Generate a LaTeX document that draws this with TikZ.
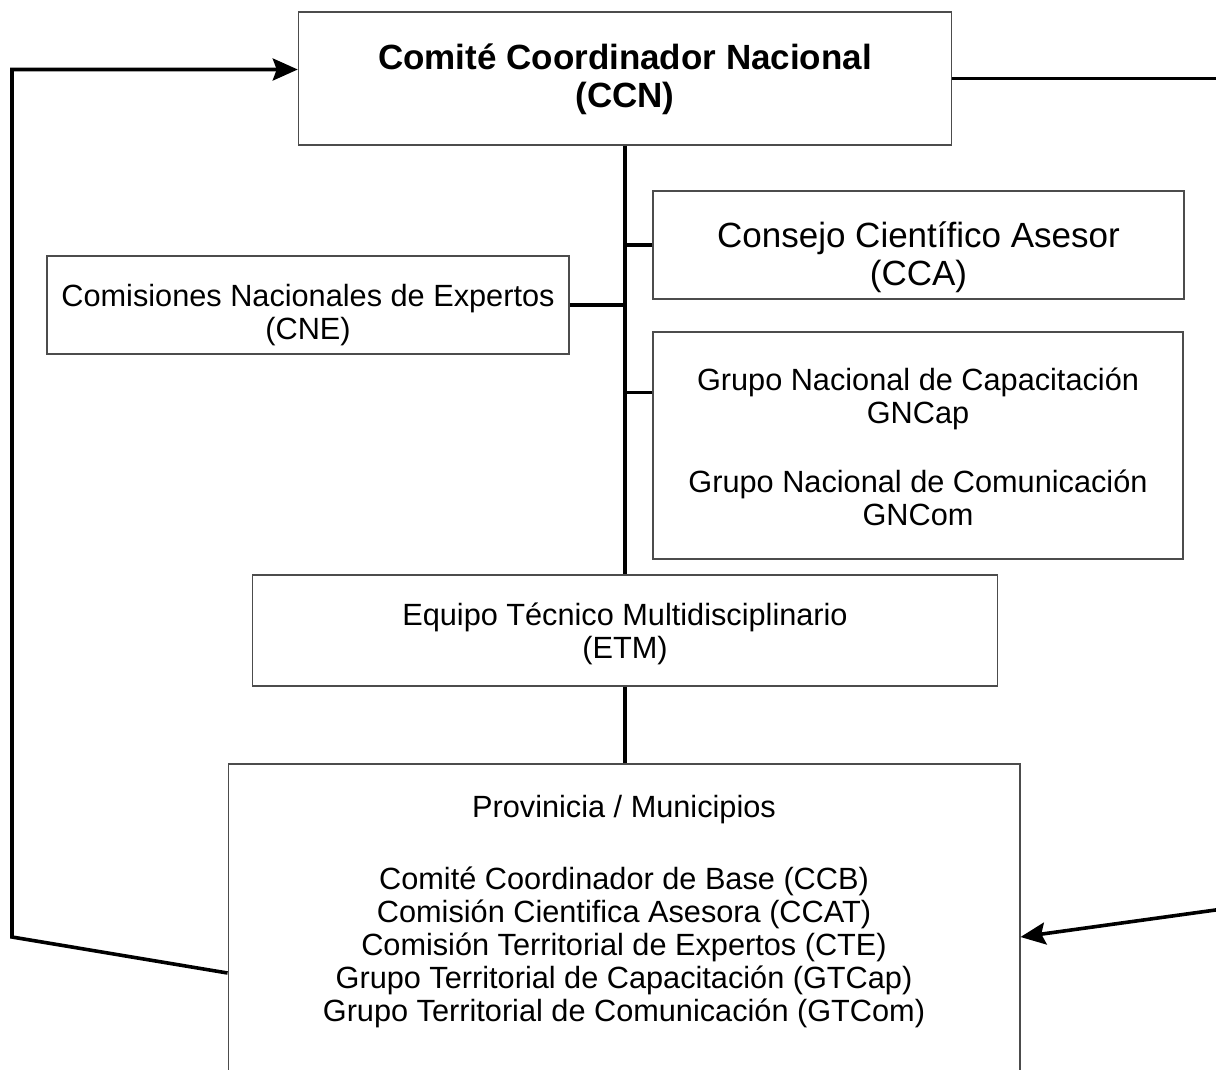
\documentclass[tikz,border=0pt]{standalone}
\usepackage{fontspec}
\setmainfont{Liberation Sans}
\usetikzlibrary{arrows.meta}
\begin{document}
\begin{tikzpicture}[x=1pt,y=-1pt,
  box/.style={draw=black!70, line width=1.5pt, rectangle, inner sep=0pt},
  conn/.style={line width=3.6pt, draw=black},
  arr/.style={conn, -{Stealth[length=25pt,width=22pt,inset=4pt]}},
  lbl/.style={align=center, inner sep=0pt, font=\fontsize{30.7}{33}\selectfont},
  big/.style={lbl, font=\fontsize{35}{37.5}\selectfont}]
\useasboundingbox (0,0) rectangle (1216,1070);
\clip (0,0) rectangle (1216,1070);
\fill[white] (0,0) rectangle (1216,1070);

% boxes
\node[box, minimum width=653pt, minimum height=133pt] (ccn) at (625,78.5) {};
\node[box, minimum width=531pt, minimum height=108pt] (cca) at (918.5,245) {};
\node[box, minimum width=522pt, minimum height=98pt] (cne) at (308,305) {};
\node[box, minimum width=530pt, minimum height=227pt] (gn) at (918,445.5) {};
\node[box, minimum width=745pt, minimum height=111pt] (etm) at (625,630.5) {};
\node[box, minimum width=791.5pt, minimum height=346pt] (prov) at (624,937) {};

% texts
\node[big, font=\fontsize{35}{38}\selectfont\bfseries] (ccnt) at (625,79) {Comité Coordinador Nacional\\(CCN)};
\node[big] (ccat) at (918.5,257) {Consejo Científico Asesor\\(CCA)};
\node[lbl] (cnet) at (308,315) {Comisiones Nacionales de Expertos\\(CNE)};
\node[lbl] (gnt) at (918,447) {Grupo Nacional de Capacitación\\GNCap\\[36.5pt]Grupo Nacional de Comunicación\\GNCom};
\node[lbl] (etmt) at (625,634) {Equipo Técnico Multidisciplinario\\(ETM)};
\node[lbl] (provt) at (624,912) {Provinicia / Municipios\\[39pt]Comité Coordinador de Base (CCB)\\Comisión Cientifica Asesora (CCAT)\\Comisión Territorial de Expertos (CTE)\\Grupo Territorial de Capacitación (GTCap)\\Grupo Territorial de Comunicación (GTCom)};

% trunk and branches
\draw[conn] (ccn.south) -- (ccn.south |- etm.north);
\draw[conn] (etm.south) -- (etm.south |- prov.north);
\draw[conn] (cca.west) -- (cca.west -| ccn.south);
\draw[conn] (cne.east) -- (cne.east -| ccn.south);
\coordinate (gnc) at ([yshift=53pt]gn.west);
\draw[conn] (gnc) -- (gnc -| ccn.south);

% feedback loop left
\coordinate (lb) at ([yshift=-36pt]prov.west);
\coordinate (lc1) at (12,937);
\coordinate (lc2) at (12,69.5);
\coordinate (ccnin) at ([yshift=9pt]ccn.west);
\draw[arr] (lb) -- (lc1) -- (lc2) -- (ccnin);

% right lines
\coordinate (rtop) at (1230,78.5);
\draw[conn] (ccn.east) -- (rtop);
\coordinate (rbot) at (1230,908);
\draw[arr] (rbot) -- (prov.east);
\end{tikzpicture}
\end{document}
